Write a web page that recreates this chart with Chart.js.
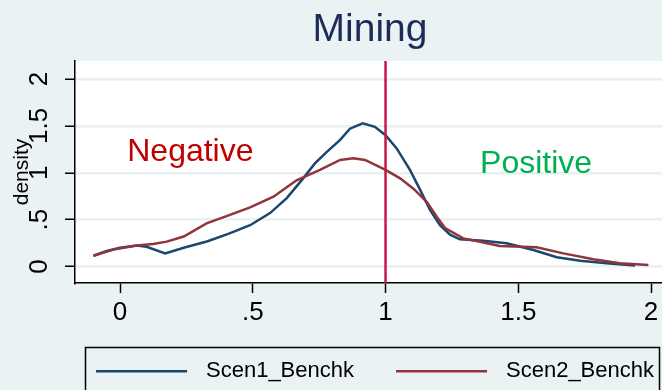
<!DOCTYPE html>
<html><head><meta charset="utf-8">
<script src="https://cdn.jsdelivr.net/npm/chart.js@4.4.1/dist/chart.umd.min.js"></script>
<style>
html,body{margin:0;padding:0;background:#eaf2f3;overflow:hidden;}
#wrap{width:740px;height:400px;}
</style></head><body>
<div id="wrap"><canvas id="c" width="740" height="400"></canvas></div>
<script>
const titleText = 'Mining';
const yAxisTitle = 'density';
const seriesNames = ['Scen1_Benchk', 'Scen2_Benchk'];
const scen1X = [-0.10, -0.05, 0.00, 0.063, 0.10, 0.17, 0.24, 0.33, 0.41, 0.49, 0.565, 0.628, 0.69, 0.734, 0.778, 0.829, 0.866, 0.914, 0.96, 1.00, 1.042, 1.092, 1.13, 1.168, 1.205, 1.243, 1.28, 1.368, 1.456, 1.557, 1.645, 1.733, 1.833, 1.94];
const scen1Y = [0.115, 0.165, 0.20, 0.225, 0.21, 0.14, 0.20, 0.27, 0.35, 0.44, 0.57, 0.73, 0.94, 1.10, 1.22, 1.35, 1.47, 1.527, 1.49, 1.40, 1.26, 1.03, 0.82, 0.60, 0.44, 0.34, 0.29, 0.275, 0.247, 0.176, 0.098, 0.062, 0.034, 0.01];
const scen2X = [-0.10, -0.025, 0.063, 0.125, 0.176, 0.24, 0.326, 0.414, 0.49, 0.578, 0.628, 0.665, 0.753, 0.829, 0.879, 0.923, 1.00, 1.055, 1.105, 1.155, 1.193, 1.224, 1.293, 1.356, 1.43, 1.569, 1.67, 1.783, 1.883, 1.99];
const scen2Y = [0.115, 0.18, 0.225, 0.24, 0.265, 0.32, 0.46, 0.55, 0.63, 0.745, 0.845, 0.92, 1.03, 1.136, 1.154, 1.136, 1.03, 0.94, 0.83, 0.69, 0.53, 0.41, 0.30, 0.265, 0.219, 0.205, 0.14, 0.077, 0.034, 0.016];
const xTickValues = [0, 0.5, 1, 1.5, 2];
const xTickLabels = ['0', '.5', '1', '1.5', '2'];
const yTickValues = [0, 0.5, 1, 1.5, 2];
const yTickLabels = ['0', '.5', '1', '1.5', '2'];
const xAxisMin = -0.1695, xAxisMax = 2.335;
const yAxisMin = -0.176, yAxisMax = 2.192;
const refLineX = 1;
const annotTexts = ['Negative', 'Positive'];
const annotX = [0.265, 1.567];
const annotY = [1.221, 1.093];
const annotColors = ['#c00000', '#00b050'];

const FONT = "'Liberation Sans', Arial, sans-serif";
const lineColors = ['#1a476f', '#90353b'];

function legendLine(color) {
  const cv = document.createElement('canvas');
  cv.width = 109; cv.height = 4;
  const g = cv.getContext('2d');
  g.fillStyle = color; g.fillRect(10, 1, 91, 2.5);
  return cv;
}

const bgPlugin = {
  id: 'bg',
  beforeDraw(chart) {
    const {ctx, chartArea: a} = chart;
    ctx.save();
    ctx.fillStyle = '#eaf2f3';
    ctx.fillRect(0, 0, chart.width, chart.height);
    ctx.fillStyle = '#ffffff';
    ctx.fillRect(a.left, a.top, a.right - a.left, a.bottom - a.top);
    ctx.restore();
  },
  afterDatasetsDraw(chart) {
    const {ctx, scales: {x, y}} = chart;
    ctx.save();
    ctx.font = '32px ' + FONT;
    ctx.textAlign = 'center';
    ctx.textBaseline = 'middle';
    annotTexts.forEach((t, i) => {
      ctx.fillStyle = annotColors[i];
      ctx.fillText(t, x.getPixelForValue(annotX[i]), y.getPixelForValue(annotY[i]));
    });
    ctx.restore();
  },
  afterDraw(chart) {
    const lg = chart.legend;
    if (!lg || !lg.legendHitBoxes || !lg.legendHitBoxes.length) return;
    const hb = lg.legendHitBoxes;
    const first = hb[0];
    const cy = first.top + first.height / 2;
    const {ctx} = chart;
    ctx.save();
    ctx.strokeStyle = '#000';
    ctx.lineWidth = 1.5;
    const l = Math.round(first.left) - 0.5;
    const t = Math.round(cy - 24) + 0.5;
    ctx.beginPath();
    ctx.moveTo(l, t + 80); ctx.lineTo(l, t); ctx.lineTo(659.5, t); ctx.lineTo(659.5, t + 80);
    ctx.stroke();
    ctx.restore();
  }
};

new Chart(document.getElementById('c'), {
  type: 'line',
  data: {
    datasets: [
      { label: seriesNames[0], data: scen1X.map((v, i) => ({x: v, y: scen1Y[i]})), borderColor: lineColors[0], backgroundColor: lineColors[0], borderWidth: 2.5, pointRadius: 0, pointStyle: legendLine(lineColors[0]), tension: 0, order: 2 },
      { label: seriesNames[1], data: scen2X.map((v, i) => ({x: v, y: scen2Y[i]})), borderColor: lineColors[1], backgroundColor: lineColors[1], borderWidth: 2.5, pointRadius: 0, pointStyle: legendLine(lineColors[1]), tension: 0, order: 1 },
      { label: 'ref', data: [{x: refLineX, y: yAxisMin}, {x: refLineX, y: yAxisMax}], borderColor: '#c8184a', borderWidth: 2.5, pointRadius: 0, order: 0 }
    ]
  },
  options: {
    responsive: false,
    animation: false,
    devicePixelRatio: 1,
    layout: { padding: { left: 0, right: 0, top: 0, bottom: 8 } },
    plugins: {
      title: { display: true, text: titleText, color: '#1c2c58', font: { family: FONT, size: 39, weight: 'normal' }, padding: { top: 7, bottom: 7.2 } },
      legend: {
        position: 'bottom',
        labels: {
          filter: (it) => it.datasetIndex < 2,
          sort: (a, b) => a.datasetIndex - b.datasetIndex,
          usePointStyle: true,
          pointStyleWidth: 109,
          color: '#000',
          font: { family: FONT, size: 22 },
          padding: 32
        }
      },
      tooltip: { enabled: false }
    },
    scales: {
      x: {
        type: 'linear', min: xAxisMin, max: xAxisMax,
        afterBuildTicks: (s) => { s.ticks = xTickValues.map(v => ({value: v})); },
        afterFit: (s) => { s.height = 45; },
        ticks: { callback: (v, i) => xTickLabels[i], color: '#000', font: { family: FONT, size: 26 }, padding: 4, maxRotation: 0, autoSkip: false },
        grid: { drawOnChartArea: false, drawTicks: true, tickLength: 10, tickColor: '#000', tickWidth: 1.5 },
        border: { color: '#000', width: 1.5 }
      },
      y: {
        type: 'linear', min: yAxisMin, max: yAxisMax,
        afterBuildTicks: (s) => { s.ticks = yTickValues.map(v => ({value: v})); },
        afterFit: (s) => { s.width = 75; },
        ticks: { callback: (v, i) => yTickLabels[i], color: '#000', font: { family: FONT, size: 26 }, padding: 7, minRotation: 90, maxRotation: 90, crossAlign: 'center', autoSkip: false },
        grid: { color: '#e8f0f2', lineWidth: 2.5, drawTicks: true, tickLength: 10, tickColor: '#000', tickWidth: 1.5 },
        border: { color: '#000', width: 1.5 },
        title: { display: true, text: yAxisTitle, color: '#000', font: { family: FONT, size: 21 }, padding: { top: 9.4, bottom: 0 } }
      }
    }
  },
  plugins: [bgPlugin]
});
</script>
</body></html>
